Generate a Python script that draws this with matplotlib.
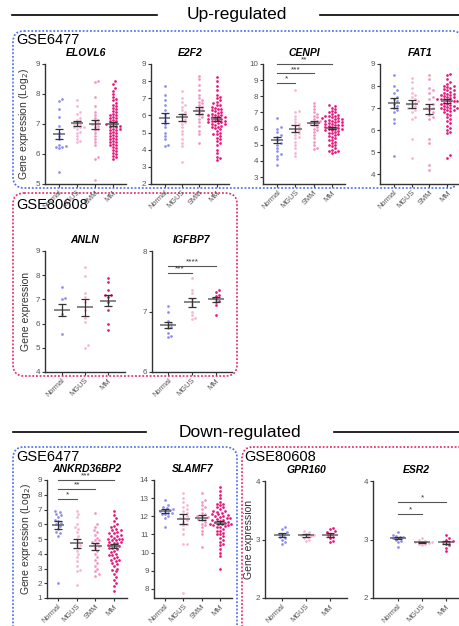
import matplotlib
matplotlib.use("Agg")
import matplotlib.pyplot as plt
from matplotlib.patches import FancyBboxPatch
import numpy as np

plt.rcParams['font.family'] = ['Liberation Sans', 'DejaVu Sans']

W, H = 460, 626

groups4 = ['Normal', 'MGUS', 'SMM', 'MM']
groups3 = ['Normal', 'MGUS', 'MM']
colors4 = ['#8d8ef0', '#f6b6d4', '#f196c4', '#e8157b']
colors3 = ['#8d8ef0', '#f6b6d4', '#e8157b']

# ---- GSE6477, up-regulated ----
elovl6 = [
    [7.82, 7.78, 7.5, 7.25, 6.95, 6.7, 6.6, 6.5, 6.3, 6.25, 6.2, 6.22, 6.28, 5.4],
    [7.8, 7.6, 7.4, 7.35, 7.2, 7.15, 7.1, 7.05, 7.0, 7.0, 6.95, 6.9, 6.9, 6.85, 6.75, 6.7, 6.6, 6.5, 6.45, 6.4, 6.9],
    [8.45, 8.4, 7.9, 7.6, 7.4, 7.3, 7.2, 7.15, 7.1, 7.05, 7.0, 7.0, 6.95, 6.9, 6.85, 6.8, 6.7, 6.6, 6.5, 6.4, 6.3, 5.9, 5.85, 5.15],
    [8.45, 8.35, 8.2, 8.1, 8.0, 7.9, 7.85, 7.8, 7.7, 7.65, 7.6, 7.55, 7.5, 7.45, 7.4, 7.35, 7.3, 7.3, 7.25, 7.2,
     7.2, 7.15, 7.1, 7.1, 7.05, 7.0, 7.0, 7.0, 6.95, 6.95, 6.9, 6.9, 6.85, 6.85, 6.8, 6.8, 6.75, 6.7, 6.7, 6.65,
     6.6, 6.6, 6.55, 6.5, 6.5, 6.45, 6.4, 6.4, 6.35, 6.3, 6.3, 6.25, 6.2, 6.15, 6.1, 6.05, 6.0, 5.95, 5.9, 5.85],
]
elovl6_mean = [6.67, 7.02, 6.99, 6.99]
elovl6_sem = [0.18, 0.08, 0.15, 0.07]

e2f2 = [
    [7.7, 7.2, 6.9, 6.6, 6.3, 6.1, 5.9, 5.7, 5.5, 5.3, 5.0, 4.8, 4.6, 4.3, 4.2],
    [7.4, 7.0, 6.8, 6.6, 6.5, 6.3, 6.2, 6.0, 5.9, 5.8, 5.7, 5.6, 5.5, 5.3, 5.1, 4.9, 4.6, 4.4, 4.2, 3.3, 6.1],
    [8.3, 8.1, 7.8, 7.5, 7.2, 7.0, 6.9, 6.7, 6.6, 6.5, 6.4, 6.3, 6.2, 6.1, 6.0, 5.8, 5.6, 5.4, 5.1, 4.9, 4.4, 6.8, 6.3, 5.9],
    [8.25, 8.0, 7.7, 7.5, 7.2, 7.1, 7.0, 6.9, 6.8, 6.7, 6.6, 6.5, 6.45, 6.4, 6.3, 6.25, 6.2, 6.1, 6.05, 6.0,
     6.0, 5.95, 5.9, 5.85, 5.8, 5.8, 5.75, 5.7, 5.65, 5.6, 5.6, 5.55, 5.5, 5.45, 5.4, 5.35, 5.3, 5.2, 5.1, 5.0,
     4.9, 4.8, 4.7, 4.6, 4.5, 4.4, 4.3, 4.0, 3.8, 3.6, 3.5, 3.4, 6.35, 5.9, 5.7, 6.15, 5.5, 6.6, 5.25, 4.9],
]
e2f2_mean = [5.85, 5.88, 6.28, 5.8]
e2f2_sem = [0.27, 0.22, 0.2, 0.12]

cenpi = [
    [6.65, 6.1, 6.0, 5.8, 5.6, 5.5, 5.3, 5.1, 5.0, 4.8, 4.6, 4.4, 4.3, 4.1, 3.75],
    [8.4, 7.1, 7.0, 6.8, 6.6, 6.4, 6.2, 6.1, 6.0, 5.9, 5.8, 5.7, 5.6, 5.5, 5.4, 5.2, 5.0, 4.8, 4.5, 4.3, 6.3],
    [7.6, 7.4, 7.2, 7.0, 6.9, 6.8, 6.7, 6.6, 6.5, 6.4, 6.35, 6.3, 6.2, 6.1, 6.0, 5.9, 5.8, 5.6, 5.4, 5.2, 5.0, 4.8, 4.75, 6.5],
    [7.45, 7.4, 7.3, 7.2, 7.1, 7.0, 6.9, 6.85, 6.8, 6.75, 6.7, 6.65, 6.6, 6.6, 6.55, 6.5, 6.45, 6.4, 6.4, 6.35,
     6.3, 6.3, 6.25, 6.2, 6.15, 6.1, 6.1, 6.05, 6.0, 6.0, 5.95, 5.9, 5.85, 5.8, 5.75, 5.7, 5.65, 5.6, 5.55, 5.5,
     5.4, 5.3, 5.2, 5.1, 5.0, 4.9, 4.8, 4.7, 4.6, 4.55, 4.5, 6.65, 6.5, 6.2, 5.9, 5.3, 5.0, 4.6, 6.8, 7.0],
]
cenpi_mean = [5.3, 6.0, 6.35, 6.05]
cenpi_sem = [0.17, 0.2, 0.13, 0.08]
cenpi_sig = [(1, '*', 8.82), (2, '***', 9.42), (3, '**', 10.0)]

fat1 = [
    [8.5, 8.0, 7.8, 7.7, 7.5, 7.3, 7.2, 7.1, 7.0, 6.9, 6.8, 6.5, 6.3, 4.8, 7.4],
    [8.35, 8.2, 7.9, 7.7, 7.6, 7.5, 7.4, 7.3, 7.25, 7.2, 7.15, 7.1, 7.0, 7.0, 6.9, 6.8, 6.6, 6.5, 5.6, 4.75, 7.3],
    [8.5, 8.3, 7.9, 7.8, 7.7, 7.4, 7.2, 7.1, 7.0, 6.9, 6.8, 6.7, 6.6, 6.5, 5.6, 5.4, 4.4, 4.2, 7.5, 7.0],
    [8.55, 8.5, 8.3, 8.2, 8.1, 8.0, 7.95, 7.9, 7.85, 7.8, 7.75, 7.7, 7.65, 7.6, 7.55, 7.5, 7.5, 7.45, 7.4, 7.4,
     7.35, 7.3, 7.3, 7.25, 7.2, 7.2, 7.15, 7.1, 7.1, 7.05, 7.0, 7.0, 6.95, 6.9, 6.85, 6.8, 6.75, 6.7, 6.6, 6.5,
     6.4, 6.3, 6.2, 6.1, 6.0, 5.9, 5.85, 4.85, 4.75, 7.6, 7.8, 7.4, 7.0, 7.3, 8.0, 6.9, 7.65],
]
fat1_mean = [7.23, 7.18, 6.95, 7.3]
fat1_sem = [0.23, 0.17, 0.23, 0.09]

# ---- GSE80608, up-regulated ----
anln = [
    [7.52, 7.05, 7.0, 6.4, 5.55],
    [8.35, 7.95, 7.25, 7.1, 6.9, 6.55, 6.25, 6.05, 5.1, 5.0],
    [7.9, 7.7, 7.4, 7.2, 7.2, 7.1, 6.9, 6.55, 6.0, 5.75],
]
anln_mean = [6.58, 6.68, 6.95]
anln_sem = [0.25, 0.35, 0.23]

igfbp7 = [
    [7.09, 6.99, 6.85, 6.8, 6.78, 6.75, 6.72, 6.65, 6.6, 6.58],
    [7.55, 7.35, 7.3, 7.2, 7.15, 7.1, 7.0, 6.95, 6.9, 6.88],
    [7.35, 7.33, 7.28, 7.25, 7.22, 7.2, 7.18, 7.15, 7.1, 6.95],
]
igfbp7_mean = [6.78, 7.15, 7.2]
igfbp7_sem = [0.05, 0.07, 0.04]
igfbp7_sig = [(1, '***', 7.64), (2, '****', 7.76)]

# ---- GSE6477, down-regulated ----
ankrd = [
    [6.9, 6.85, 6.7, 6.6, 6.5, 6.3, 6.2, 6.1, 6.0, 5.9, 5.7, 5.5, 5.4, 5.2, 2.0],
    [6.9, 6.7, 6.5, 6.0, 5.8, 5.7, 5.5, 5.2, 5.0, 4.8, 4.6, 4.4, 4.2, 4.0, 3.8, 3.5, 3.2, 2.9, 2.8, 1.9, 4.6],
    [6.75, 6.0, 5.8, 5.6, 5.5, 5.3, 5.1, 4.9, 4.8, 4.7, 4.6, 4.5, 4.4, 4.2, 4.0, 3.8, 3.6, 3.4, 3.2, 3.0, 2.8, 2.6, 2.5, 4.9],
    [6.9, 6.6, 6.4, 6.2, 6.0, 5.9, 5.8, 5.7, 5.6, 5.5, 5.4, 5.3, 5.2, 5.1, 5.0, 5.0, 4.9, 4.8, 4.7, 4.7,
     4.6, 4.5, 4.5, 4.4, 4.3, 4.2, 4.1, 4.0, 3.9, 3.8, 3.7, 3.6, 3.5, 3.4, 3.3, 3.2, 3.0, 2.9, 2.8, 2.6,
     2.4, 2.2, 2.0, 1.8, 1.5, 5.6, 5.2, 4.9, 4.6, 4.4, 4.8, 5.4, 3.9, 3.6, 5.0],
]
ankrd_mean = [5.95, 4.7, 4.5, 4.5]
ankrd_sem = [0.28, 0.28, 0.22, 0.14]
ankrd_sig = [(1, '*', 7.73), (2, '**', 8.4), (3, '***', 9.0)]

slamf7 = [
    [12.9, 12.6, 12.5, 12.4, 12.35, 12.3, 12.3, 12.2, 12.2, 12.1, 12.0, 11.9, 11.4, 12.45, 12.15],
    [13.3, 13.0, 12.8, 12.6, 12.5, 12.3, 12.1, 12.0, 11.9, 11.8, 11.7, 11.5, 11.3, 11.0, 10.5, 10.45, 7.75, 12.2, 11.6, 12.4, 11.9],
    [13.3, 12.9, 12.8, 12.6, 12.4, 12.2, 12.1, 12.0, 11.95, 11.9, 11.8, 11.7, 11.6, 11.5, 11.4, 11.2, 11.0, 10.3, 12.5, 12.0, 11.85],
    [13.6, 13.4, 13.2, 13.0, 12.8, 12.7, 12.6, 12.5, 12.4, 12.3, 12.25, 12.2, 12.1, 12.05, 12.0, 11.95, 11.9, 11.85, 11.8, 11.75,
     11.7, 11.65, 11.6, 11.55, 11.5, 11.45, 11.4, 11.3, 11.2, 11.1, 11.0, 10.9, 10.8, 10.7, 10.6, 10.4, 10.2, 10.0, 9.8, 9.1,
     12.0, 11.8, 11.6, 11.5, 12.3, 11.9, 11.4, 12.5, 11.7, 11.2, 11.0, 12.1, 11.6, 10.5, 12.7],
]
slamf7_mean = [12.28, 11.85, 11.93, 11.65]
slamf7_sem = [0.1, 0.25, 0.15, 0.1]

# ---- GSE80608, down-regulated ----
gpr160 = [
    [3.22, 3.18, 3.12, 3.1, 3.08, 3.05, 3.02, 3.0, 2.96, 2.92],
    [3.15, 3.12, 3.1, 3.08, 3.07, 3.05, 3.03, 3.0, 2.98, 3.06],
    [3.2, 3.18, 3.14, 3.12, 3.1, 3.07, 3.05, 3.02, 2.98, 2.95],
]
gpr160_mean = [3.08, 3.07, 3.08]
gpr160_sem = [0.03, 0.02, 0.03]

esr2 = [
    [3.12, 3.08, 3.06, 3.05, 3.04, 3.02, 3.0, 2.98, 2.95, 2.87],
    [3.03, 3.0, 2.98, 2.96, 2.95, 2.94, 2.93, 2.92, 2.9, 2.95],
    [3.07, 3.03, 3.0, 2.98, 2.96, 2.95, 2.93, 2.9, 2.86, 2.8],
]
esr2_mean = [3.03, 2.95, 2.95]
esr2_sem = [0.02, 0.015, 0.02]
esr2_sig = [(1, '*', 3.44), (2, '*', 3.64)]

fig = plt.figure(figsize=(W / 100, H / 100), dpi=100)

# background layer in pixel coordinates
bg = fig.add_axes([0, 0, 1, 1], zorder=-1)
bg.set_xlim(0, W)
bg.set_ylim(H, 0)
bg.axis('off')


def box(x0, y0, x1, y1, color):
    p = FancyBboxPatch((x0, y0), x1 - x0, y1 - y0, boxstyle='round,pad=0,rounding_size=11',
                       facecolor='none', edgecolor=color, lw=1.2, linestyle=(0, (1.1, 1.1)), clip_on=False)
    bg.add_patch(p)


blue = '#4d6ef0'
red = '#e8285f'
box(13, 31, 463, 188, blue)
box(13, 193, 237, 376, red)
box(13, 447, 237, 640, blue)
box(242, 447, 470, 640, red)

bg.plot([12, 157], [15, 15], color='black', lw=1.2)
bg.plot([320, 460], [15, 15], color='black', lw=1.2)
bg.text(237, 15, 'Up-regulated', ha='center', va='center', fontsize=12.5)
bg.plot([13, 146], [432, 432], color='black', lw=1.2)
bg.plot([334, 460], [432, 432], color='black', lw=1.2)
bg.text(240, 432, 'Down-regulated', ha='center', va='center', fontsize=12.5)

bg.text(16, 40, 'GSE6477', ha='left', va='center', fontsize=10.5)
bg.text(16, 205, 'GSE80608', ha='left', va='center', fontsize=10.5)
bg.text(16, 457, 'GSE6477', ha='left', va='center', fontsize=10.5)
bg.text(244, 457, 'GSE80608', ha='left', va='center', fontsize=10.5)


def swarm_x(vals, x0, spx, spy, d=3.0):
    placed = []
    xs = np.zeros(len(vals))
    order = np.argsort(vals)
    for i in order:
        py = vals[i] * spy
        k = 0
        while True:
            step = (k + 1) // 2
            off = step * d * 0.55 * (1 if k % 2 == 1 else -1)
            if all((off - qx) ** 2 + (py - qy) ** 2 >= d * d for qx, qy in placed):
                break
            k += 1
        placed.append((off, py))
        xs[i] = x0 + off / spx
    return xs


def panel(l, t, r, b, title, data, means, sems, labels, colors, ylim, yticks, xlim, ylabel=None, sig=None, lpad=3):
    ax = fig.add_axes([l / W, 1 - b / H, (r - l) / W, (b - t) / H])
    spx = (r - l) / (xlim[1] - xlim[0])
    spy = (b - t) / (ylim[1] - ylim[0])
    for i, vals in enumerate(data):
        vals = np.array(vals)
        xs = swarm_x(vals, i, spx, spy)
        ax.scatter(xs, vals, s=3.8, color=colors[i], linewidths=0, zorder=2)
        ax.hlines(means[i], i - 0.34, i + 0.34, color='#666666', lw=1.1, zorder=3)
        ax.errorbar(i, means[i], yerr=sems[i], fmt='none', ecolor='#333333', elinewidth=0.9,
                    capsize=3.2, capthick=0.9, zorder=3)
    if sig:
        for j, star, y in sig:
            ax.plot([0, j], [y, y], color='#555555', lw=0.8, clip_on=False)
            ax.text(j / 2, y + (ylim[1] - ylim[0]) * 0.003, star, ha='center', va='bottom',
                    fontsize=6, color='#333333', clip_on=False)
    ax.set_xlim(*xlim)
    ax.set_ylim(*ylim)
    ax.set_yticks(yticks)
    ax.set_xticks(range(len(labels)))
    ax.set_xticklabels(labels, rotation=45, ha='right', rotation_mode='anchor', fontsize=5.3)
    for s in ['top', 'right']:
        ax.spines[s].set_visible(False)
    for s in ['left', 'bottom']:
        ax.spines[s].set_color('#333333')
        ax.spines[s].set_linewidth(1.0)
    ax.tick_params(length=2.5, width=0.8, colors='#333333', labelcolor='#555555', pad=1.2)
    ax.tick_params(axis='y', labelsize=5.8)
    ax.set_title(title, fontsize=7.5, fontweight='bold', style='italic', pad=6)
    if ylabel:
        ax.set_ylabel(ylabel, fontsize=7.5, labelpad=lpad, color='#333333')
    return ax


log_label = 'Gene expression (Log$_2$)'
x4 = (-0.78, 3.72)
panel(45, 64, 126, 184, 'ELOVL6', elovl6, elovl6_mean, elovl6_sem, groups4, colors4, (5, 9), range(5, 10), x4, log_label)
panel(151, 64, 229, 184, 'E2F2', e2f2, e2f2_mean, e2f2_sem, groups4, colors4, (2, 9), range(2, 10), x4)
panel(263, 64, 345, 184, 'CENPI', cenpi, cenpi_mean, cenpi_sem, groups4, colors4, (2.57, 10), range(3, 11), x4, sig=cenpi_sig)
panel(380, 64, 460, 184, 'FAT1', fat1, fat1_mean, fat1_sem, groups4, colors4, (3.55, 9), range(4, 10), x4)

panel(45, 251, 125, 372, 'ANLN', anln, anln_mean, anln_sem, groups3, colors3, (4, 9), range(4, 10), (-0.74, 2.74), 'Gene expression')
panel(152, 251, 232, 372, 'IGFBP7', igfbp7, igfbp7_mean, igfbp7_sem, groups3, colors3, (6, 8), [6, 7, 8], (-0.67, 2.67), sig=igfbp7_sig)

panel(47, 480, 127, 598, 'ANKRD36BP2', ankrd, ankrd_mean, ankrd_sem, groups4, colors4, (1, 9), range(1, 10), (-0.59, 3.69), log_label, sig=ankrd_sig)
panel(154, 480, 232, 598, 'SLAMF7', slamf7, slamf7_mean, slamf7_sem, groups4, colors4, (7.5, 14), range(8, 15), (-0.6, 3.66))

panel(265, 481, 347, 598, 'GPR160', gpr160, gpr160_mean, gpr160_sem, groups3, colors3, (2, 4), [2, 3, 4], (-0.71, 2.71), 'Gene expression', lpad=1)
panel(373, 481, 460, 598, 'ESR2', esr2, esr2_mean, esr2_sem, groups3, colors3, (2, 4), [2, 3, 4], (-1.04, 2.58), sig=esr2_sig)

fig.savefig('out.png', dpi=100)
